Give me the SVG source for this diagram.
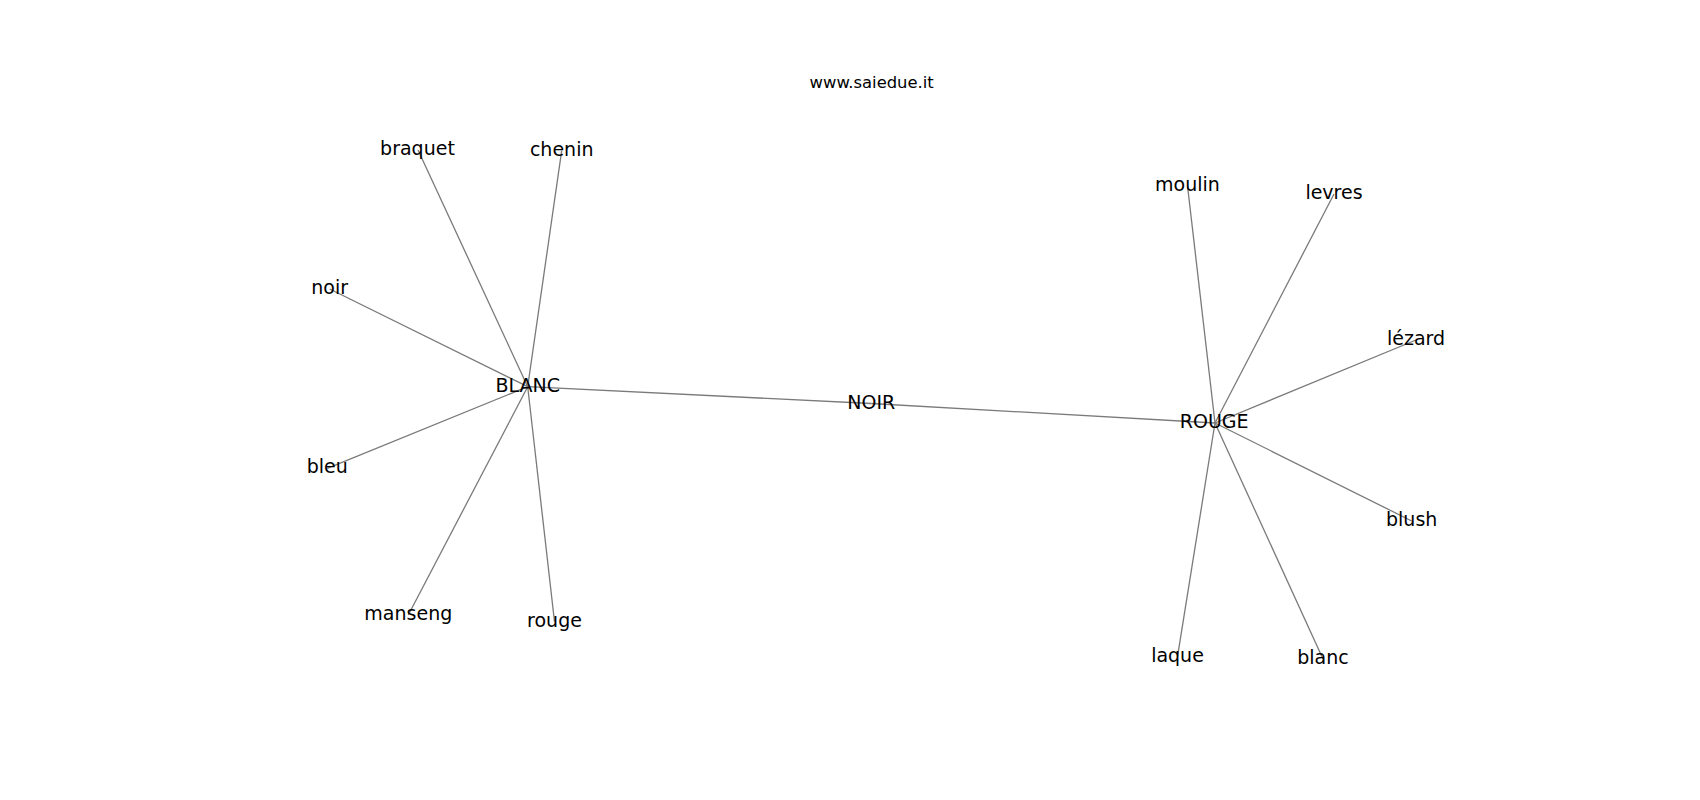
<svg xmlns="http://www.w3.org/2000/svg" width="1700" height="800" viewBox="0 0 1700 800">
<style>
.e{stroke:#7a7a7a;stroke-width:1.3;fill:none}
.l{font-family:"DejaVu Sans","Liberation Sans",sans-serif;font-size:19px;fill:#000;text-anchor:middle}
.t{font-family:"DejaVu Sans","Liberation Sans",sans-serif;font-size:16.4px;fill:#000;text-anchor:middle}
</style>
<rect width="1700" height="800" fill="#fff"/>
<text class="t" x="871.7" y="88.3">www.saiedue.it</text>
<g id="edges">
<line class="e" x1="527.7" y1="386.7" x2="418" y2="150"/>
<line class="e" x1="527.7" y1="386.7" x2="561.7" y2="150.7"/>
<line class="e" x1="527.7" y1="386.7" x2="329.7" y2="289"/>
<line class="e" x1="527.7" y1="386.7" x2="327.3" y2="468.3"/>
<line class="e" x1="527.7" y1="386.7" x2="408.3" y2="615"/>
<line class="e" x1="527.7" y1="386.7" x2="554.5" y2="621.7"/>
<line class="e" x1="527.7" y1="386.7" x2="871.3" y2="403.5"/>
<line class="e" x1="871.3" y1="403.5" x2="1215" y2="423"/>
<line class="e" x1="1215" y1="423" x2="1187.5" y2="185.7"/>
<line class="e" x1="1215" y1="423" x2="1334" y2="194"/>
<line class="e" x1="1215" y1="423" x2="1416" y2="340"/>
<line class="e" x1="1215" y1="423" x2="1411.7" y2="521"/>
<line class="e" x1="1215" y1="423" x2="1177.5" y2="656.7"/>
<line class="e" x1="1215" y1="423" x2="1323" y2="659"/>
</g>
<g id="BLANC"><text class="l" x="527.7" y="391.7">BLANC</text></g>
<g id="braquet"><text class="l" x="417.5" y="155">braquet</text></g>
<g id="chenin"><text class="l" x="561.7" y="155.7">chenin</text></g>
<g id="noir"><text class="l" x="329.7" y="294">noir</text></g>
<g id="bleu"><text class="l" x="327.3" y="473.3">bleu</text></g>
<g id="manseng"><text class="l" x="408.3" y="620">manseng</text></g>
<g id="rouge"><text class="l" x="554.5" y="626.7">rouge</text></g>
<g id="NOIR"><text class="l" x="871.3" y="409">NOIR</text></g>
<g id="ROUGE"><text class="l" x="1214.2" y="427.7">ROUGE</text></g>
<g id="moulin"><text class="l" x="1187.5" y="190.7">moulin</text></g>
<g id="levres"><text class="l" x="1334" y="199">levres</text></g>
<g id="lezard"><text class="l" x="1416" y="345">lézard</text></g>
<g id="blush"><text class="l" x="1411.7" y="526">blush</text></g>
<g id="laque"><text class="l" x="1177.5" y="661.7">laque</text></g>
<g id="blanc"><text class="l" x="1323" y="664">blanc</text></g>
</svg>
